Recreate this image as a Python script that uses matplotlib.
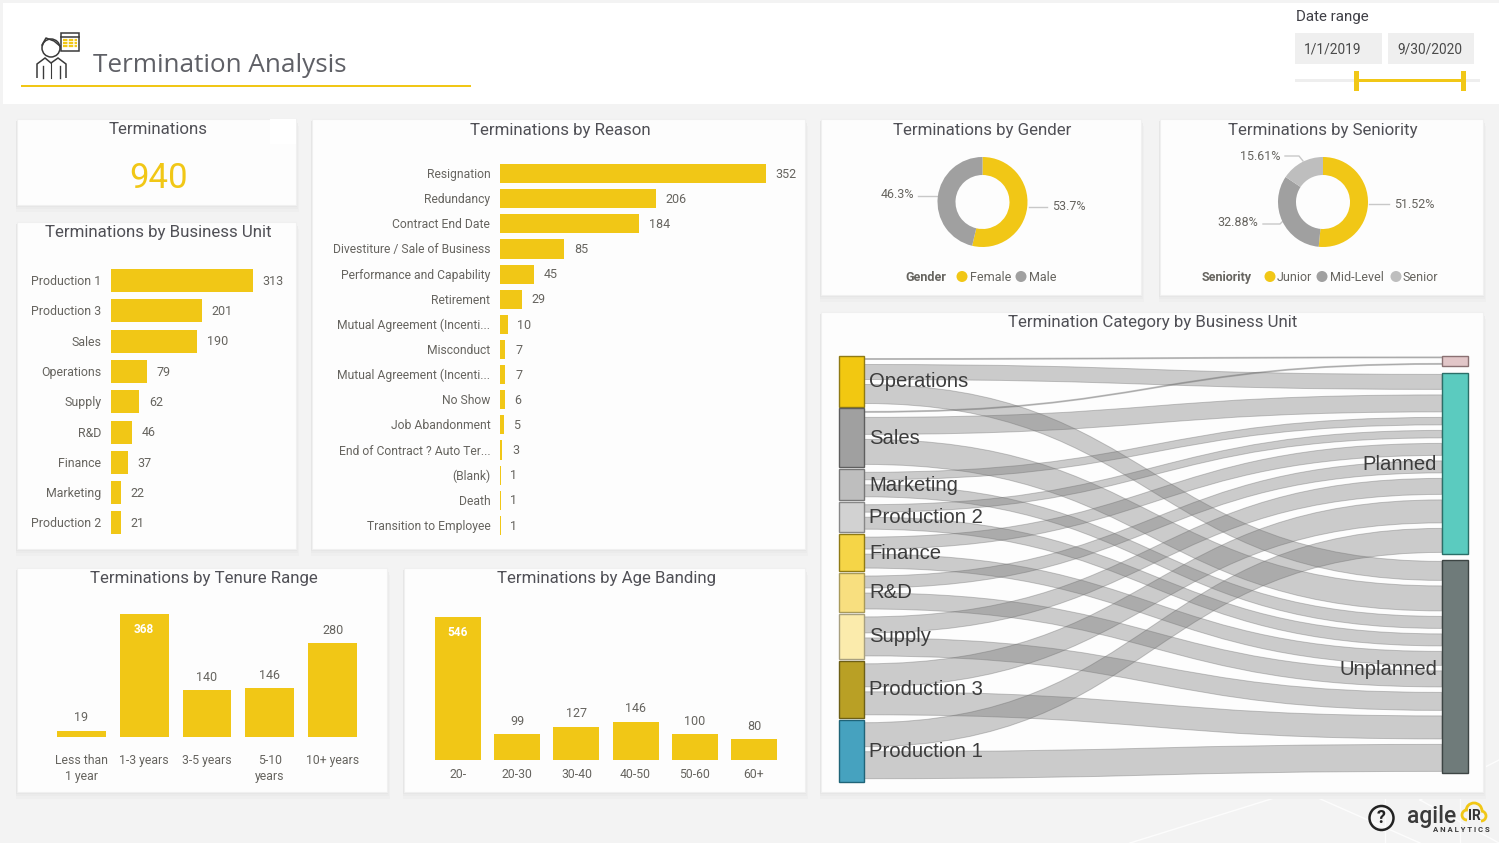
import matplotlib
matplotlib.use('Agg')
import matplotlib.pyplot as plt
from matplotlib.patches import Rectangle, PathPatch, Circle, Arc, Polygon
from matplotlib.path import Path
from matplotlib.transforms import ScaledTranslation

plt.rcParams['font.family'] = ['Roboto', 'DejaVu Sans']

W, H = 1499, 843
YELLOW = '#F1C716'
TITLE_C = '#505056'
TEXT_C = '#66645f'

# data
total_terminations = '940'

unit_names = ['Production 1', 'Production 3', 'Sales', 'Operations', 'Supply', 'R&D',
              'Finance', 'Marketing', 'Production 2']
unit_values = [313, 201, 190, 79, 62, 46, 37, 22, 21]

reason_names = ['Resignation', 'Redundancy', 'Contract End Date', 'Divestiture / Sale of Business',
                'Performance and Capability', 'Retirement', 'Mutual Agreement (Incenti...',
                'Misconduct', 'Mutual Agreement (Incenti...', 'No Show', 'Job Abandonment',
                'End of Contract ? Auto Ter...', '(Blank)', 'Death', 'Transition to Employee']
reason_values = [352, 206, 184, 85, 45, 29, 10, 7, 7, 6, 5, 3, 1, 1, 1]

tenure_names = ['Less than\n1 year', '1-3 years', '3-5 years', '5-10\nyears', '10+ years']
tenure_values = [19, 368, 140, 146, 280]

age_names = ['20-', '20-30', '30-40', '40-50', '50-60', '60+']
age_values = [546, 99, 127, 146, 100, 80]

gender_names = ['Female', 'Male']
gender_values = [53.7, 46.3]
gender_labels = ['53.7%', '46.3%']

seniority_names = ['Junior', 'Mid-Level', 'Senior']
seniority_values = [51.52, 32.88, 15.61]
seniority_labels = ['51.52%', '32.88%', '15.61%']

# sankey: band thickness, one list per target
sankey_units = ['Operations', 'Sales', 'Marketing', 'Production 2', 'Finance', 'R&D',
                'Supply', 'Production 3', 'Production 1']
sankey_other = [1, 1, 0, 0, 0, 0, 0, 0, 0]
sankey_planned = [15, 17, 7.5, 7.5, 12, 12, 16, 23, 24]
sankey_unplanned = [19, 25, 12, 12, 14, 16, 18, 23, 27]
sankey_targets = ['', 'Planned', 'Unplanned']
sankey_unit_colors = ['#F2C811', '#A0A0A0', '#BEBEBE', '#D2D2D2', '#F5D547', '#F8DF7F',
                      '#FBEBAC', '#B9A025', '#46A2BF']
sankey_unit_edges = ['#8f7a14', '#5e5e5e', '#777777', '#888888', '#8f7a14', '#a89a5a',
                     '#a8a080', '#6d5f16', '#1f6478']
sankey_target_colors = ['#E2C6C8', '#5BCBBF', '#6F7B7A']
sankey_target_edges = ['#8a7072', '#2b6f68', '#3d4544']

fig = plt.figure(figsize=(W / 100, H / 100), dpi=100, facecolor='#f3f3f3')
bg = fig.add_axes([0, 0, 1, 1], zorder=0)
bg.set_xlim(0, W)
bg.set_ylim(H, 0)
bg.axis('off')


def px_axes(x0, y0, x1, y1):
    a = fig.add_axes([x0 / W, 1 - y1 / H, (x1 - x0) / W, (y1 - y0) / H], zorder=2)
    a.patch.set_alpha(0)
    for s in a.spines.values():
        s.set_visible(False)
    a.set_xticks([])
    a.set_yticks([])
    return a


def card(x0, y0, x1, y1, title=None, cx=None):
    y0 -= 0.5
    for off, c in [(7, '#efefef'), (4, '#ebebeb'), (2, '#e6e6e6')]:
        bg.add_patch(Rectangle((x0 - 1, y0 + off), x1 - x0 + 1 + off / 2, y1 - y0, fc=c, ec='none', zorder=1))
    bg.add_patch(Rectangle((x0, y0), x1 - x0, y1 - y0, fc='#fdfdfd', ec='#f0f0f0', lw=0.8, zorder=2))
    if title:
        t = (x0 + x1) / 2 if cx is None else cx
        bg.text(t, y0 + 11.5, title, ha='center', va='center', fontsize=12.2, color=TITLE_C, zorder=6)


# header
bg.add_patch(Rectangle((3, 3), W - 3, 101, fc='white', ec='none', zorder=1))
bg.add_patch(Rectangle((21, 85), 450, 2, fc=YELLOW, ec='none', zorder=2))
bg.text(93, 65.5, 'Termination Analysis', fontsize=18.8, family='Open Sans', color='#5f6066', ha='left', va='center')

# icon
ic = '#3a3a3a'
bg.add_patch(Polygon([(37, 78), (37, 64), (45, 58), (51, 63), (58, 58), (66, 64), (66, 78)],
                     closed=False, fc='white', ec=ic, lw=1.1, zorder=3))
bg.add_patch(Circle((51, 48), 9, fc='white', ec=ic, lw=1.1, zorder=3))
bg.plot([42, 46, 54, 60], [45, 38, 41, 46], color=ic, lw=1.1, zorder=4)
bg.plot([43, 43], [66, 78], color=ic, lw=1, zorder=4)
bg.plot([60, 60], [66, 78], color=ic, lw=1, zorder=4)
bg.plot([51, 51], [63, 78], color=ic, lw=0.8, zorder=4)
bg.add_patch(Rectangle((61, 33), 18, 18, fc='white', ec=ic, lw=1.1, zorder=3))
bg.plot([61, 79], [37, 37], color=ic, lw=1.1, zorder=4)
for yy in [40, 43, 46]:
    bg.plot([63, 77], [yy, yy], color=YELLOW, lw=1.6, ls=(0, (2, 0.6)), zorder=4)

# date slicer
bg.text(1296, 17, 'Date range', fontsize=10.9, color='#3f3f46', ha='left', va='center', zorder=4)
for x0, x1, d in [(1295, 1382, '1/1/2019'), (1388, 1474, '9/30/2020')]:
    bg.add_patch(Rectangle((x0, 33), x1 - x0, 31, fc='#efefef', ec='none', zorder=3))
    bg.text(x0 + 9, 49, d, fontsize=9.9, color='#4a4a4a', ha='left', va='center', zorder=4)
bg.add_patch(Rectangle((1295, 79), 185, 3, fc='#eeeeee', ec='none', zorder=3))
bg.add_patch(Rectangle((1356, 79), 108, 3, fc=YELLOW, ec='none', zorder=4))
bg.add_patch(Rectangle((1354, 71), 5, 20, fc=YELLOW, ec='none', zorder=4))
bg.add_patch(Rectangle((1461, 71), 5, 20, fc=YELLOW, ec='none', zorder=4))

# faint watermark in the page background
for p in [[(1130, 843), (1300, 790)], [(1300, 790), (1420, 843)], [(1420, 800), (1499, 760)],
          [(1420, 800), (1499, 843)], [(1385, 790), (1385, 843)], [(1460, 790), (1460, 843)]]:
    bg.plot([p[0][0], p[1][0]], [p[0][1], p[1][1]], color='white', lw=1, alpha=0.8, zorder=0.5)

# cards
card(17, 119, 296, 205, 'Terminations', cx=158)
bg.add_patch(Rectangle((270, 118.5), 26, 25, fc='white', ec='none', zorder=3))
card(17, 222, 296, 549, 'Terminations by Business Unit', cx=158)
card(312, 119, 805, 549, 'Terminations by Reason', cx=560)
card(821, 119, 1141, 295, 'Terminations by Gender', cx=982)
card(1160, 119, 1483, 295, 'Terminations by Seniority', cx=1323)
card(821, 312, 1483, 792, 'Termination Category by Business Unit', cx=1153)
card(17, 568, 387, 792, 'Terminations by Tenure Range', cx=204)
card(404, 568, 805, 792, 'Terminations by Age Banding', cx=607)

bg.text(158.5, 178.5, total_terminations, fontsize=25, color=YELLOW, ha='center', va='center', zorder=6)


def hbars(box, names, values, xmax, fs):
    a = px_axes(*box)
    n = len(names)
    a.barh(range(n), values, height=0.76, color=YELLOW)
    a.set_ylim(n - 0.5, -0.5)
    a.set_xlim(0, xmax)
    a.set_yticks(range(n), names, fontsize=fs, color=TEXT_C, va='center')
    a.tick_params(axis='y', length=0, pad=7)
    for lab in a.get_yticklabels():
        lab.set_transform(lab.get_transform() + ScaledTranslation(0, -0.01, fig.dpi_scale_trans))
    for i, v in enumerate(values):
        a.annotate(str(v), (v, i), xytext=(7, -0.5), textcoords='offset points',
                   fontsize=9, color=TEXT_C, ha='left', va='center')
    return a


hbars((111, 265.5, 296, 538), unit_names, unit_values, 185 * 313 / 142, 8.9)
hbars((500, 161, 805, 538), reason_names, reason_values, 305 * 352 / 266, 8.75)


def vbars(box, names, values, ymax, width, inside, pad):
    a = px_axes(*box)
    n = len(names)
    a.bar(range(n), values, width=width, color=YELLOW)
    a.set_xlim(-0.5, n - 0.5)
    a.set_ylim(0, ymax)
    a.set_xticks(range(n), names, fontsize=8.8, color=TEXT_C, linespacing=1.3, va='top')
    a.tick_params(axis='x', length=0, pad=pad)
    for i, v in enumerate(values):
        if v == inside:
            a.annotate(str(v), (i, v), xytext=(0, -11), textcoords='offset points',
                       fontsize=8.5, color='white', fontweight='bold', ha='center', va='center')
        else:
            a.annotate(str(v), (i, v), xytext=(0, 9.2), textcoords='offset points',
                       fontsize=9, color=TEXT_C, ha='center', va='center')
    return a


vbars((50, 600, 364, 737), tenure_names, tenure_values, 137 * 368 / 123, 0.78, 368, 12)
vbars((428.4, 600, 783.6, 760), age_names, age_values, 160 * 546 / 143, 0.78, 546, 5.5)


def donut(cx, cy, values, colors):
    r = 60
    a = px_axes(cx - r, cy - r, cx + r, cy + r)
    a.pie(values, colors=colors, startangle=90, counterclock=False, radius=45 / r,
          wedgeprops=dict(width=18 / r, edgecolor='none'))
    a.set_xlim(-1, 1)
    a.set_ylim(-1, 1)
    a.set_aspect('equal')


donut(982.5, 202, gender_values, [YELLOW, '#A0A0A0'])
donut(1323, 202, seniority_values, [YELLOW, '#A0A0A0', '#BEBEBE'])


def leader(xs, ys):
    bg.plot(xs, ys, color='#c8c8c8', lw=1, zorder=6)


def small(x, y, s, ha='left', **kw):
    bg.text(x, y, s, fontsize=9, color=TEXT_C, ha=ha, va='center', zorder=7, **kw)


small(1052, 207, gender_labels[0])
leader([1029, 1047], [207, 207])
small(914, 195, gender_labels[1], ha='right')
leader([918, 937], [196, 196])
small(1394, 204, seniority_labels[0])
leader([1369, 1389], [204, 204])
small(1258, 223, seniority_labels[1], ha='right')
leader([1263, 1280, 1284], [224, 224, 220])
small(1280, 156, seniority_labels[2], ha='right')
leader([1285, 1299, 1303], [156, 156, 161])

# legends
small(905, 277.5, 'Gender', fontweight='bold')
for cx_, tx, s, c in [(962, 970, gender_names[0], YELLOW), (1021, 1029, gender_names[1], '#A0A0A0')]:
    bg.add_patch(Circle((cx_, 276.5), 5.5, fc=c, ec='none', zorder=7))
    small(tx, 277.5, s)
small(1202, 277.5, 'Seniority', fontweight='bold')
for cx_, tx, s, c in [(1270, 1277, seniority_names[0], YELLOW), (1322, 1330, seniority_names[1], '#A0A0A0'),
                      (1396, 1403, seniority_names[2], '#BEBEBE')]:
    bg.add_patch(Circle((cx_, 276.5), 5.5, fc=c, ec='none', zorder=7))
    small(tx, 277.5, s)

# sankey
L0, L1 = 839, 864
R0, R1 = 1442, 1468
inset_l, gap_l, node_gap = 3, 5, 1.9
inset_r, gap_r = 1.4, 5.5
target_tops = [355.5, 373, 560]


def band(x0, x1, y0a, y0b, y1a, y1b):
    xm = (x0 + x1) / 2
    verts = [(x0, y0a), (xm, y0a), (xm, y1a), (x1, y1a),
             (x1, y1b), (xm, y1b), (xm, y0b), (x0, y0b), (x0, y0a)]
    codes = [Path.MOVETO, Path.CURVE4, Path.CURVE4, Path.CURVE4,
             Path.LINETO, Path.CURVE4, Path.CURVE4, Path.CURVE4, Path.CLOSEPOLY]
    bg.add_patch(PathPatch(Path(verts, codes), fc=(0.45, 0.45, 0.45, 0.36), ec=(0.4, 0.4, 0.4, 0.35),
                           lw=0.7, zorder=3))


# right side position of each band
targets = [sankey_other, sankey_planned, sankey_unplanned]
right_pos = []
target_bottoms = []
for top, vals in zip(target_tops, targets):
    y = top + inset_r
    pos = []
    for v in vals:
        if v > 0:
            pos.append(y)
            y += v + gap_r
        else:
            pos.append(None)
    right_pos.append(pos)
    target_bottoms.append(y - gap_r + inset_r)

y = 355.5
for i, name in enumerate(sankey_units):
    vals = [t[i] for t in targets]
    vals_nz = [v for v in vals if v > 0]
    h = sum(vals_nz) + gap_l * (len(vals_nz) - 1) + 2 * inset_l
    bg.add_patch(Rectangle((L0, y), L1 - L0, h, fc=sankey_unit_colors[i], ec=sankey_unit_edges[i], lw=1, zorder=4))
    yy = y + inset_l
    for j, v in enumerate(vals):
        if v > 0:
            band(L1, R0, yy, yy + v, right_pos[j][i], right_pos[j][i] + v)
            yy += v + gap_l
    bg.text(869.5, y + h / 2 + 0.5, name, family='Liberation Sans', fontsize=14.6, color='#3c3c3c',
            ha='left', va='center', zorder=6)
    y += h + node_gap

label_offsets = [0, 1, 3]
for j, name in enumerate(sankey_targets):
    top, bot = target_tops[j], target_bottoms[j]
    bg.add_patch(Rectangle((R0, top), R1 - R0, bot - top, fc=sankey_target_colors[j],
                           ec=sankey_target_edges[j], lw=1, zorder=4))
    if name:
        bg.text(1437, (top + bot) / 2 + label_offsets[j], name, family='Liberation Sans', fontsize=14.6,
                color='#3c3c3c', ha='right', va='center', zorder=6)

# help icon and logo
bg.add_patch(Circle((1381.5, 818), 12, fc='none', ec='#222222', lw=1.8, zorder=5))
bg.text(1381.5, 818, '?', fontsize=13, fontweight='bold', color='#222222', ha='center', va='center', zorder=6)
bg.text(1407, 816, 'agile', fontsize=16.5, fontweight='medium', color='#3a3a3a', ha='left', va='center', zorder=6)
bg.add_patch(Arc((1474, 811), 16, 16, theta1=180, theta2=360, ec=YELLOW, lw=2, zorder=5))
bg.add_patch(Arc((1467, 815), 10, 10, theta1=90, theta2=280, ec=YELLOW, lw=2, zorder=5))
bg.add_patch(Arc((1481, 816), 10, 10, theta1=-90, theta2=90, ec=YELLOW, lw=2, zorder=5))
bg.text(1474, 816, 'IR', fontsize=10, fontweight='bold', color='#333333', ha='center', va='center', zorder=6)
bg.text(1433, 829, 'A N A L Y T I C S', fontsize=5.6, fontweight='bold', color='#3a3a3a', ha='left', va='center', zorder=6)

fig.savefig('out.png', dpi=100, facecolor=fig.get_facecolor())
